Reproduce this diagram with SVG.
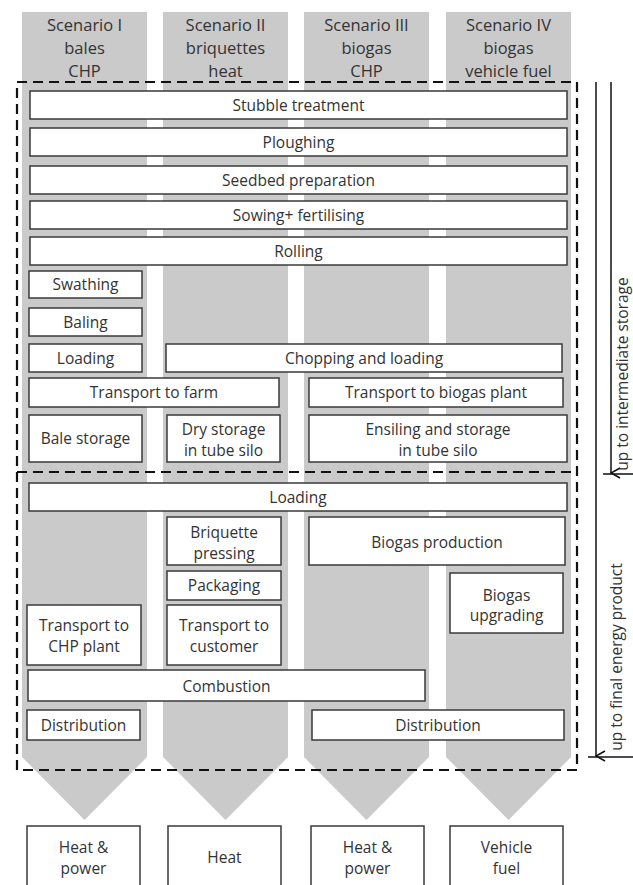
<svg xmlns="http://www.w3.org/2000/svg" width="633" height="885" viewBox="0 0 633 885">
<style>
.col{fill:#cacaca}
.b{fill:#fff;stroke:#3a3a3a;stroke-width:1.5}
.t{font-family:"Open Sans","Liberation Sans",sans-serif;font-size:15.5px;fill:#333;text-anchor:middle}
.h{font-family:"Open Sans","Liberation Sans",sans-serif;font-size:16.5px;fill:#333;text-anchor:middle}
.r{font-family:"Open Sans","Liberation Sans",sans-serif;font-size:15.5px;fill:#333;text-anchor:middle}
.d{fill:none;stroke:#111;stroke-width:2.2;stroke-dasharray:10 6}
.a{fill:none;stroke:#111;stroke-width:1.5}
</style>
<defs>
<marker id="arr" markerWidth="12" markerHeight="12" refX="6" refY="11" orient="auto" markerUnits="userSpaceOnUse" viewBox="0 0 12 12">
<path d="M1,2 L6,11 L11,2" fill="none" stroke="#111" stroke-width="1.6"/>
</marker>
</defs>
<rect width="633" height="885" fill="#fff"/>
<g id="columns">
<path class="col" d="M22,12 H147 V757 L84.5,820 L22,757 Z"/>
<path class="col" d="M163,12 H288 V757 L225.5,820 L163,757 Z"/>
<path class="col" d="M304,12 H429 V757 L366.5,820 L304,757 Z"/>
<path class="col" d="M446,12 H571 V757 L508.5,820 L446,757 Z"/>
</g>
<g id="headers">
<text class="h" x="84.5" y="31">Scenario I</text><text class="h" x="84.5" y="54">bales</text><text class="h" x="84.5" y="77">CHP</text>
<text class="h" x="225.5" y="31">Scenario II</text><text class="h" x="225.5" y="54">briquettes</text><text class="h" x="225.5" y="77">heat</text>
<text class="h" x="366.5" y="31">Scenario III</text><text class="h" x="366.5" y="54">biogas</text><text class="h" x="366.5" y="77">CHP</text>
<text class="h" x="508.5" y="31">Scenario IV</text><text class="h" x="508.5" y="54">biogas</text><text class="h" x="508.5" y="77">vehicle fuel</text>
</g>
<g id="n-stubble"><rect class="b" x="30" y="91" width="537" height="28"/><text class="t" x="298.5" y="110.5">Stubble treatment</text></g>
<g id="n-ploughing"><rect class="b" x="30" y="128" width="537" height="28"/><text class="t" x="298.5" y="147.5">Ploughing</text></g>
<g id="n-seedbed"><rect class="b" x="30" y="166" width="537" height="28"/><text class="t" x="298.5" y="185.5">Seedbed preparation</text></g>
<g id="n-sowing"><rect class="b" x="30" y="201" width="537" height="28"/><text class="t" x="298.5" y="220.5">Sowing+ fertilising</text></g>
<g id="n-rolling"><rect class="b" x="30" y="237" width="537" height="28"/><text class="t" x="298.5" y="256.5">Rolling</text></g>
<g id="n-swathing"><rect class="b" x="29" y="271" width="113" height="27"/><text class="t" x="85.5" y="290">Swathing</text></g>
<g id="n-baling"><rect class="b" x="29" y="308" width="113" height="28"/><text class="t" x="85.5" y="327.5">Baling</text></g>
<g id="n-loading1"><rect class="b" x="29" y="344" width="113" height="28"/><text class="t" x="85.5" y="363.5">Loading</text></g>
<g id="n-chopping"><rect class="b" x="166" y="344" width="396" height="28"/><text class="t" x="364" y="363.5">Chopping and loading</text></g>
<g id="n-transfarm"><rect class="b" x="29" y="378" width="250" height="29"/><text class="t" x="154" y="398">Transport to farm</text></g>
<g id="n-transbiogas"><rect class="b" x="309" y="378" width="254" height="29"/><text class="t" x="436" y="398">Transport to biogas plant</text></g>
<g id="n-balestorage"><rect class="b" x="29" y="415" width="113" height="47"/><text class="t" x="85.5" y="444">Bale storage</text></g>
<g id="n-drystorage"><rect class="b" x="167" y="415" width="113" height="47"/><text class="t" x="223.5" y="434.5">Dry storage</text><text class="t" x="223.5" y="455.5">in tube silo</text></g>
<g id="n-ensiling"><rect class="b" x="309" y="415" width="258" height="47"/><text class="t" x="438" y="434.5">Ensiling and storage</text><text class="t" x="438" y="455.5">in tube silo</text></g>
<g id="n-loading2"><rect class="b" x="29" y="483" width="538" height="28"/><text class="t" x="298" y="502.5">Loading</text></g>
<g id="n-briquette"><rect class="b" x="167" y="517" width="114" height="48"/><text class="t" x="224" y="537.5">Briquette</text><text class="t" x="224" y="558.5">pressing</text></g>
<g id="n-biogasprod"><rect class="b" x="309" y="517" width="256" height="48"/><text class="t" x="437" y="547.5">Biogas production</text></g>
<g id="n-packaging"><rect class="b" x="167" y="571" width="114" height="29"/><text class="t" x="224" y="591">Packaging</text></g>
<g id="n-upgrading"><rect class="b" x="450" y="573" width="113" height="60"/><text class="t" x="506.5" y="600.5">Biogas</text><text class="t" x="506.5" y="620.5">upgrading</text></g>
<g id="n-transchp"><rect class="b" x="27" y="605" width="114" height="60"/><text class="t" x="84" y="630.5">Transport to</text><text class="t" x="84" y="651.5">CHP plant</text></g>
<g id="n-transcust"><rect class="b" x="167" y="605" width="114" height="60"/><text class="t" x="224" y="630.5">Transport to</text><text class="t" x="224" y="651.5">customer</text></g>
<g id="n-combustion"><rect class="b" x="28" y="670" width="397" height="31"/><text class="t" x="226.5" y="691.5">Combustion</text></g>
<g id="n-distr1"><rect class="b" x="27" y="710" width="113" height="30"/><text class="t" x="83.5" y="730.5">Distribution</text></g>
<g id="n-distr2"><rect class="b" x="312" y="710" width="252" height="30"/><text class="t" x="438" y="730.5">Distribution</text></g>
<g id="n-out1"><rect class="b" x="27" y="826" width="113" height="70"/><text class="t" x="83.5" y="852.5">Heat &amp;</text><text class="t" x="83.5" y="873.5">power</text></g>
<g id="n-out2"><rect class="b" x="168" y="826" width="113" height="70"/><text class="t" x="224.5" y="862.5">Heat</text></g>
<g id="n-out3"><rect class="b" x="311" y="826" width="113" height="70"/><text class="t" x="367.5" y="852.5">Heat &amp;</text><text class="t" x="367.5" y="873.5">power</text></g>
<g id="n-out4"><rect class="b" x="450" y="826" width="113" height="70"/><text class="t" x="506.5" y="852.5">Vehicle</text><text class="t" x="506.5" y="873.5">fuel</text></g>
<g id="boundaries">
<rect class="d" x="17" y="82" width="560" height="688"/>
<line class="d" x1="17" y1="472" x2="577" y2="472"/>
</g>
<g id="connectors">
<line class="a" x1="596" y1="82" x2="596" y2="756" marker-end="url(#arr)"/>
<line class="a" x1="611" y1="82" x2="611" y2="473" marker-end="url(#arr)"/>
<line class="a" x1="603" y1="474" x2="633" y2="474"/>
<line class="a" x1="588" y1="757" x2="633" y2="757"/>
<text class="r" transform="translate(628,374) rotate(-90)">up to intermediate storage</text>
<text class="r" transform="translate(622,657) rotate(-90)">up to final energy product</text>
</g>
</svg>
